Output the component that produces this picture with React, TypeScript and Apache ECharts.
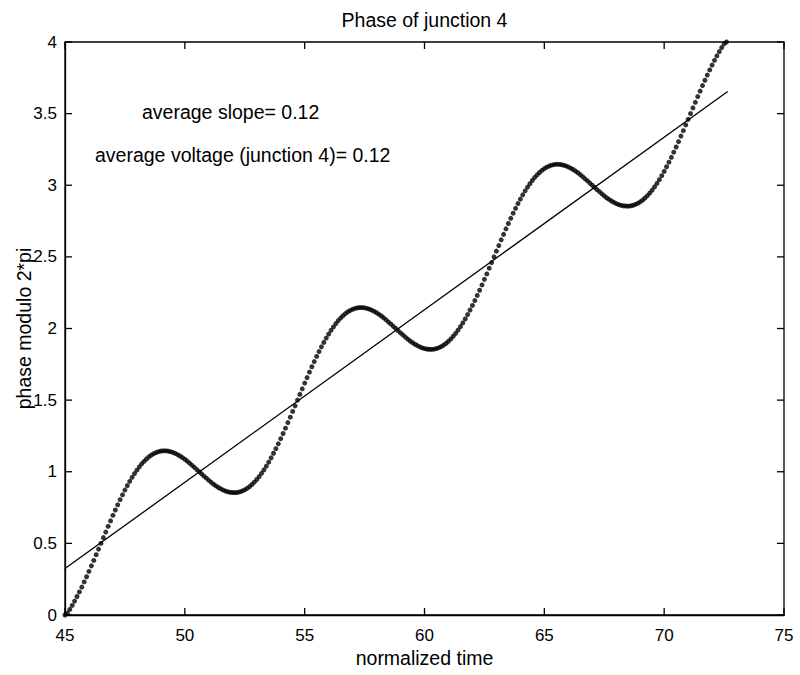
import React, { useEffect, useRef } from "react";
import * as echarts from "echarts";

// sampling grid of the phase trace (normalized time)
const T_START = 45;
const T_STEP = 0.1;

// phase modulo 2*pi at every time step
const phaseValues: number[] = [
  0.000, 0.013, 0.039, 0.067, 0.097, 0.129, 0.161, 0.195, 0.231, 0.267,
  0.304, 0.343, 0.381, 0.421, 0.460, 0.500, 0.540, 0.579, 0.619, 0.657,
  0.696, 0.733, 0.769, 0.805, 0.839, 0.872, 0.903, 0.933, 0.961, 0.987,
  1.011, 1.034, 1.055, 1.073, 1.089, 1.104, 1.116, 1.126, 1.134, 1.140,
  1.144, 1.146, 1.146, 1.144, 1.140, 1.135, 1.128, 1.119, 1.110, 1.099,
  1.087, 1.074, 1.060, 1.045, 1.031, 1.015, 1.000, 0.985, 0.969, 0.955,
  0.940, 0.926, 0.913, 0.901, 0.890, 0.881, 0.872, 0.865, 0.860, 0.856,
  0.855, 0.854, 0.856, 0.860, 0.866, 0.874, 0.884, 0.896, 0.911, 0.927,
  0.946, 0.966,
  0.989, 1.013, 1.039, 1.067, 1.097, 1.129, 1.161, 1.195, 1.231, 1.267,
  1.304, 1.343, 1.381, 1.421, 1.460, 1.500, 1.540, 1.579, 1.619, 1.657,
  1.696, 1.733, 1.769, 1.805, 1.839, 1.872, 1.903, 1.933, 1.961, 1.987,
  2.011, 2.034, 2.055, 2.073, 2.089, 2.104, 2.116, 2.126, 2.134, 2.140,
  2.144, 2.146, 2.146, 2.144, 2.140, 2.135, 2.128, 2.119, 2.110, 2.099,
  2.087, 2.074, 2.060, 2.045, 2.031, 2.015, 2.000, 1.985, 1.969, 1.955,
  1.940, 1.926, 1.913, 1.901, 1.890, 1.881, 1.872, 1.865, 1.860, 1.856,
  1.855, 1.854, 1.856, 1.860, 1.866, 1.874, 1.884, 1.896, 1.911, 1.927,
  1.946, 1.966,
  1.989, 2.013, 2.039, 2.067, 2.097, 2.129, 2.161, 2.195, 2.231, 2.267,
  2.304, 2.343, 2.381, 2.421, 2.460, 2.500, 2.540, 2.579, 2.619, 2.657,
  2.696, 2.733, 2.769, 2.805, 2.839, 2.872, 2.903, 2.933, 2.961, 2.987,
  3.011, 3.034, 3.055, 3.073, 3.089, 3.104, 3.116, 3.126, 3.134, 3.140,
  3.144, 3.146, 3.146, 3.144, 3.140, 3.135, 3.128, 3.119, 3.110, 3.099,
  3.087, 3.074, 3.060, 3.045, 3.031, 3.015, 3.000, 2.985, 2.969, 2.955,
  2.940, 2.926, 2.913, 2.901, 2.890, 2.881, 2.872, 2.865, 2.860, 2.856,
  2.855, 2.854, 2.856, 2.860, 2.866, 2.874, 2.884, 2.896, 2.911, 2.927,
  2.946, 2.966,
  2.989, 3.013, 3.039, 3.067, 3.097, 3.129, 3.161, 3.195, 3.231, 3.267,
  3.304, 3.343, 3.381, 3.421, 3.460, 3.500, 3.540, 3.579, 3.619, 3.657,
  3.696, 3.733, 3.769, 3.805, 3.839, 3.872, 3.903, 3.933, 3.961, 3.987,
  4.000,
];

// least-squares line through the trace (start / end points)
const fitLineX = [45, 72.65];
const fitLineY = [0.324, 3.655];

// axes and tick values
const X_MIN = 45;
const X_MAX = 75;
const X_INTERVAL = 5;
const Y_MIN = 0;
const Y_MAX = 4;
const Y_INTERVAL = 0.5;
const X_TICKS = [45, 50, 55, 60, 65, 70, 75];
const Y_TICKS = [0, 0.5, 1, 1.5, 2, 2.5, 3, 3.5, 4];

// texts
const TITLE = "Phase of junction 4";
const X_NAME = "normalized time";
const Y_NAME = "phase modulo 2*pi";
const NOTE_SLOPE = "average slope= 0.12";
const NOTE_VOLTAGE = "average voltage (junction 4)= 0.12";

const FONT = "'Liberation Sans', Arial, Helvetica, sans-serif";

export default function App() {
  const ref = useRef<HTMLDivElement>(null);

  useEffect(() => {
    if (!ref.current) return;
    const chart = echarts.init(ref.current, null, { renderer: "svg" });

    const phaseData = phaseValues.map((v, i) => [
      +(T_START + i * T_STEP).toFixed(2),
      v,
    ]);
    const lineData = fitLineX.map((x, i) => [x, fitLineY[i]]);

    const makeAxis = (extra: any) => ({
      type: "value",
      axisLine: { show: true, onZero: false, lineStyle: { color: "#000", width: 1.3 } },
      axisTick: { show: false },
      minorTick: { show: false },
      splitLine: { show: false },
      ...extra,
    });

    const gridLeft = 65;
    const gridRight = 16;
    const gridTop = 42;
    const gridBottom = 60;
    const plotCenterX = gridLeft + (800 - gridLeft - gridRight) / 2;
    const plotCenterY = gridTop + (675 - gridTop - gridBottom) / 2;

    const textStyle = (text: string, align: string) => ({
      text,
      font: `19.5px ${FONT}`,
      fill: "#000",
      textAlign: align,
      textVerticalAlign: "middle",
    });

    const texts: any[] = [
      { type: "text", x: plotCenterX, y: 20, style: textStyle(TITLE, "center") },
      { type: "text", x: plotCenterX, y: 658, style: textStyle(X_NAME, "center") },
      {
        type: "text",
        x: 24,
        y: plotCenterY,
        rotation: Math.PI / 2,
        style: textStyle(Y_NAME, "center"),
      },
      { type: "text", x: 142, y: 112, style: textStyle(NOTE_SLOPE, "left") },
      { type: "text", x: 95, y: 155, style: textStyle(NOTE_VOLTAGE, "left") },
    ];

    const option: any = {
      animation: false,
      backgroundColor: "#fff",
      textStyle: { fontFamily: FONT, color: "#000" },
      grid: {
        left: gridLeft,
        right: gridRight,
        top: gridTop,
        bottom: gridBottom,
        containLabel: false,
        outerBoundsMode: "none",
        show: true,
        borderColor: "#000",
        borderWidth: 1.3,
        backgroundColor: "transparent",
      },
      xAxis: [
        makeAxis({
          position: "bottom",
          min: X_MIN,
          max: X_MAX,
          interval: X_INTERVAL,
          axisLabel: { show: true, color: "#000", fontSize: 17, fontFamily: FONT, margin: 12 },
        }),
      ],
      yAxis: [
        makeAxis({
          position: "left",
          min: Y_MIN,
          max: Y_MAX,
          interval: Y_INTERVAL,
          axisLabel: { show: true, color: "#000", fontSize: 17, fontFamily: FONT, margin: 8 },
        }),
      ],
      series: [
        {
          name: "fit",
          type: "line",
          data: lineData,
          showSymbol: false,
          lineStyle: { color: "#000", width: 1.3 },
          z: 2,
        },
        {
          name: "phase",
          type: "scatter",
          data: phaseData,
          symbol: "circle",
          symbolSize: 5,
          itemStyle: { color: "#000" },
          clip: false,
          z: 3,
        },
      ],
      graphic: texts,
    };

    chart.setOption(option);

    // inside tick marks on all four sides, placed through the chart's own scales
    const TICK_LEN = 7;
    const tickStyle = { stroke: "#000", lineWidth: 1.3 };
    const ticks: any[] = [];
    const yBottom = chart.convertToPixel({ gridIndex: 0 }, [X_MIN, Y_MIN]) as number[];
    const yTop = chart.convertToPixel({ gridIndex: 0 }, [X_MAX, Y_MAX]) as number[];
    X_TICKS.forEach((xv) => {
      const p = chart.convertToPixel({ gridIndex: 0 }, [xv, Y_MIN]) as number[];
      ticks.push({
        type: "line",
        shape: { x1: p[0], y1: yBottom[1], x2: p[0], y2: yBottom[1] - TICK_LEN },
        style: tickStyle,
      });
      ticks.push({
        type: "line",
        shape: { x1: p[0], y1: yTop[1], x2: p[0], y2: yTop[1] + TICK_LEN },
        style: tickStyle,
      });
    });
    Y_TICKS.forEach((yv) => {
      const p = chart.convertToPixel({ gridIndex: 0 }, [X_MIN, yv]) as number[];
      ticks.push({
        type: "line",
        shape: { x1: yBottom[0], y1: p[1], x2: yBottom[0] + TICK_LEN, y2: p[1] },
        style: tickStyle,
      });
      ticks.push({
        type: "line",
        shape: { x1: yTop[0], y1: p[1], x2: yTop[0] - TICK_LEN, y2: p[1] },
        style: tickStyle,
      });
    });
    chart.setOption({ graphic: [...texts, ...ticks] });

    return () => chart.dispose();
  }, []);

  return (
    <div
      ref={ref}
      style={{ position: "fixed", left: 0, top: 0, width: 800, height: 675, background: "#fff" }}
    />
  );
}
